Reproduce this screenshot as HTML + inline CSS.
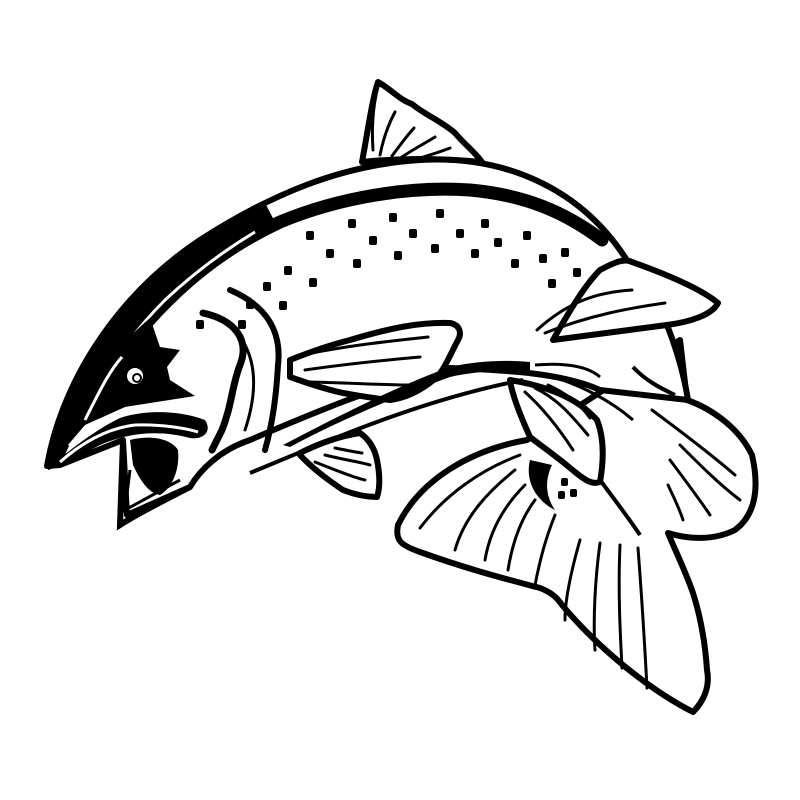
<!DOCTYPE html>
<html><head><meta charset="utf-8"><style>html,body{margin:0;padding:0;background:#fff}svg{display:block}</style></head>
<body>
<svg width="800" height="800" viewBox="0 0 800 800" xmlns="http://www.w3.org/2000/svg">
<g fill="#fff" stroke="#000" stroke-width="6" stroke-linejoin="round" stroke-linecap="round">
<!-- tail -->
<path d="M527,440 C470,450 420,480 398,525 C395,540 400,545 420,552 C470,570 510,580 540,588 C550,592 556,596 562,605 C600,650 650,690 693,712 C705,700 710,685 707,670 C705,640 700,615 693,593 C685,570 675,550 668,533 C690,540 715,540 735,530 C755,515 760,490 752,455 C740,430 715,410 687,400 L680,340 Z"/>
<!-- body -->
<path d="M47,466 C60,390 110,300 200,240 C270,195 340,165 420,160 C500,155 580,185 628,262 L667,325 C677,350 684,375 688,400 L600,390 C560,372 500,370 450,368 C380,385 320,410 250,440 C220,450 200,470 190,487 L127,515 L123,440 L60,465 Z"/>
<!-- dorsal fin -->
<path d="M362,162 C368,130 372,100 378,82 C392,90 400,100 412,104 C425,115 440,120 455,133 C465,145 475,152 482,162 C440,158 400,158 362,162 Z"/>
<!-- right upper fin -->
<path d="M600,270 C615,262 625,258 632,262 C660,272 700,288 718,303 C712,315 690,322 667,325 C630,330 590,335 553,340 C570,310 585,285 600,270 Z"/>
<!-- anal fin -->
<path d="M510,380 C540,385 575,395 597,420 C605,440 603,465 600,482 C592,485 585,480 575,472 C555,455 540,445 530,437 C520,415 512,395 510,380 Z"/>
<!-- pectoral fin -->
<path d="M290,360 C310,352 330,345 350,340 C390,328 420,322 450,323 C460,325 462,333 458,340 C450,355 445,368 437,377 C420,392 405,398 390,400 C370,398 355,395 343,393 C320,388 305,382 290,377 Z"/>
<!-- pelvic fin -->
<path d="M300,453 C320,443 340,436 360,433 C370,440 375,450 377,460 C380,475 380,488 377,497 C365,497 353,494 343,490 C328,480 312,468 300,455 Z"/>
</g>
<!-- head top black wedge -->
<path d="M45,468 C60,390 110,300 200,240 C225,224 245,212 265,203 L275,222 C220,250 170,290 130,340 C100,380 80,420 62,462 Z" fill="#000"/>
<!-- back band -->
<path d="M120,355 C170,290 220,250 280,222 C340,197 410,186 470,190 C525,195 565,212 602,240" fill="none" stroke="#000" stroke-width="13" stroke-linecap="round"/>
<path d="M68,445 C90,395 120,345 165,300 C195,272 225,250 255,232" fill="none" stroke="#fff" stroke-width="3"/>
<!-- head dark -->
<path d="M150,318 L160,347 L180,350 L167,367 L170,380 L195,396 L125,407 L85,425 L50,466 C50,430 90,370 150,318 Z" fill="#000"/>
<path d="M85,420 C100,390 110,370 122,357" fill="none" stroke="#fff" stroke-width="3"/>
<circle cx="135" cy="376" r="8" fill="#fff"/>
<circle cx="137" cy="378" r="4" fill="none" stroke="#000" stroke-width="2"/>
<!-- mouth -->
<path d="M48,468 C70,450 95,430 120,418 C150,408 185,412 205,420 C212,430 205,440 190,438 C160,430 130,432 100,445 C80,455 65,465 48,470 Z" fill="#000"/>
<path d="M60,462 C85,440 110,428 135,425 C160,424 185,428 198,432" fill="none" stroke="#fff" stroke-width="3"/>
<path d="M130,440 C150,435 170,438 178,450 C180,470 172,488 160,495 C148,493 140,480 133,465 Z" fill="#000"/>
<path d="M123,440 L120,525 C140,512 165,500 190,487" fill="none" stroke="#000" stroke-width="6"/>
<path d="M130,470 L125,510 L180,480" fill="none" stroke="#000" stroke-width="3"/>
<!-- gill arcs -->
<g fill="none" stroke="#000" stroke-linecap="round">
<path d="M203,313 C235,320 250,340 240,365 C232,385 232,405 222,430 L212,450" stroke-width="7"/>
<path d="M230,290 C265,305 282,330 278,365 C276,400 272,425 265,450" stroke-width="6"/>
<path d="M245,345 C258,370 255,400 245,430" stroke-width="3"/>
</g>
<!-- belly lines -->
<path d="M283,445 C340,415 400,385 450,367 C480,360 510,360 530,362 L530,370 C500,370 470,372 450,377 C400,395 340,420 290,447 Z" fill="#000"/>
<path d="M250,473 C330,440 420,400 523,380" fill="none" stroke="#000" stroke-width="4"/>
<path d="M535,365 C570,362 590,368 600,377" fill="none" stroke="#000" stroke-width="3"/>
<path d="M633,367 C645,380 660,388 675,395" fill="none" stroke="#000" stroke-width="4"/>
<!-- fin rays -->
<g fill="none" stroke="#000" stroke-width="3" stroke-linecap="round">
<path d="M376,95 C372,115 372,135 373,150"/><path d="M395,112 C388,125 383,140 380,155"/><path d="M414,128 C405,138 398,148 392,156"/><path d="M435,137 C422,145 412,150 402,157"/><path d="M450,148 C440,152 430,155 420,158"/>
<path d="M302,355 C350,345 400,340 428,337"/><path d="M305,370 C360,362 410,358 420,357"/><path d="M310,382 C350,383 390,385 408,385"/>
<path d="M315,462 C335,470 355,478 365,480"/><path d="M325,455 C345,460 360,462 370,465"/><path d="M335,448 C345,450 355,452 362,453"/>
<path d="M537,330 C570,300 600,292 632,290"/><path d="M545,333 C590,315 630,308 665,303"/>
<path d="M525,392 C545,410 560,430 573,450"/><path d="M535,388 C560,400 575,420 588,435"/><path d="M548,385 C570,395 583,408 590,418"/>
<path d="M520,455 C480,470 445,495 420,528"/><path d="M515,470 C490,490 465,515 455,550"/><path d="M525,485 C505,505 490,530 485,560"/><path d="M535,500 C520,520 512,545 508,570"/><path d="M555,515 C545,540 540,560 535,585"/>
<path d="M580,540 C570,575 565,600 565,620"/><path d="M600,543 C595,580 593,620 595,650"/><path d="M620,545 C618,590 620,630 622,668"/><path d="M638,548 C642,600 645,650 647,688"/>
<path d="M680,445 C700,465 720,485 740,500"/><path d="M670,460 C685,480 700,500 710,515"/><path d="M668,485 C675,500 680,510 683,520"/>
<path d="M652,410 C665,420 700,445 735,475"/>
</g>
<!-- tail dark spot -->
<path d="M530,460 C525,480 535,500 555,510 C545,495 545,480 552,465 Z" fill="#000"/>
<path d="M600,480 C615,500 630,520 640,535" fill="none" stroke="#000" stroke-width="4"/>
<path d="M553,377 C580,385 610,400 633,420" fill="none" stroke="#000" stroke-width="3"/>
<!-- dots -->
<g fill="#000">
<rect x="436" y="209" width="8" height="9" rx="2"/><rect x="389" y="213" width="8" height="9" rx="2"/><rect x="348" y="219" width="8" height="9" rx="2"/><rect x="306" y="231" width="8" height="9" rx="2"/><rect x="481" y="219" width="8" height="9" rx="2"/><rect x="523" y="231" width="8" height="9" rx="2"/><rect x="561" y="248" width="8" height="9" rx="2"/><rect x="573" y="268" width="8" height="9" rx="2"/><rect x="548" y="279" width="8" height="9" rx="2"/><rect x="539" y="254" width="8" height="9" rx="2"/><rect x="511" y="259" width="8" height="9" rx="2"/><rect x="494" y="238" width="8" height="9" rx="2"/><rect x="456" y="229" width="8" height="9" rx="2"/><rect x="409" y="229" width="8" height="9" rx="2"/><rect x="369" y="236" width="8" height="9" rx="2"/><rect x="326" y="249" width="8" height="9" rx="2"/><rect x="284" y="266" width="8" height="9" rx="2"/><rect x="431" y="244" width="8" height="9" rx="2"/><rect x="471" y="249" width="8" height="9" rx="2"/><rect x="394" y="251" width="8" height="9" rx="2"/><rect x="353" y="259" width="8" height="9" rx="2"/><rect x="309" y="278" width="8" height="9" rx="2"/><rect x="279" y="301" width="8" height="9" rx="2"/><rect x="263" y="282" width="8" height="9" rx="2"/><rect x="246" y="300" width="8" height="9" rx="2"/><rect x="196" y="320" width="8" height="9" rx="2"/><rect x="238" y="320" width="8" height="9" rx="2"/>
<rect x="561" y="478" width="7" height="8" rx="2"/><rect x="558" y="491" width="7" height="8" rx="2"/><rect x="570" y="489" width="7" height="8" rx="2"/>
</g>
</svg>
</body></html>
